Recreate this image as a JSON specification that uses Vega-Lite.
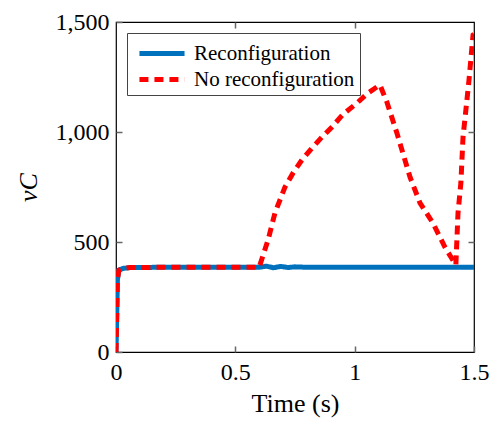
{
  "$schema": "https://vega.github.io/schema/vega-lite/v6.json",
  "width": 358,
  "height": 330,
  "autosize": {"type": "none"},
  "padding": {"left": 116, "top": 22, "right": 17, "bottom": 71},
  "background": "white",
  "config": {
    "view": {"stroke": "black", "strokeWidth": 1.2},
    "font": "Liberation Serif",
    "axis": {"grid": false, "domain": false, "ticks": true, "zindex": 1, "tickColor": "#666666", "tickSize": 6, "offset": -6, "tickWidth": 1.5, "labelFont": "Liberation Serif", "titleFont": "Liberation Serif", "labelFontSize": 24, "titleFontSize": 26, "labelColor": "black", "titleColor": "black", "titleFontWeight": "normal"}
  },
  "data": {
    "values": [
      {"series": "Reconfiguration", "t": 0.0, "v": 0},
      {"series": "Reconfiguration", "t": 0.006, "v": 330},
      {"series": "Reconfiguration", "t": 0.012, "v": 372},
      {"series": "Reconfiguration", "t": 0.03, "v": 380},
      {"series": "Reconfiguration", "t": 0.06, "v": 384},
      {"series": "Reconfiguration", "t": 0.2, "v": 385},
      {"series": "Reconfiguration", "t": 0.6, "v": 385},
      {"series": "Reconfiguration", "t": 0.63, "v": 390},
      {"series": "Reconfiguration", "t": 0.66, "v": 383},
      {"series": "Reconfiguration", "t": 0.69, "v": 389},
      {"series": "Reconfiguration", "t": 0.72, "v": 384},
      {"series": "Reconfiguration", "t": 0.75, "v": 387},
      {"series": "Reconfiguration", "t": 0.8, "v": 385},
      {"series": "Reconfiguration", "t": 1.0, "v": 385},
      {"series": "Reconfiguration", "t": 1.5, "v": 385},
      {"series": "No reconfiguration", "t": 0.0, "v": 0},
      {"series": "No reconfiguration", "t": 0.006, "v": 330},
      {"series": "No reconfiguration", "t": 0.012, "v": 372},
      {"series": "No reconfiguration", "t": 0.03, "v": 380},
      {"series": "No reconfiguration", "t": 0.06, "v": 384},
      {"series": "No reconfiguration", "t": 0.2, "v": 385},
      {"series": "No reconfiguration", "t": 0.6, "v": 385},
      {"series": "No reconfiguration", "t": 0.637, "v": 509},
      {"series": "No reconfiguration", "t": 0.666, "v": 632},
      {"series": "No reconfiguration", "t": 0.708, "v": 750},
      {"series": "No reconfiguration", "t": 0.742, "v": 814},
      {"series": "No reconfiguration", "t": 0.779, "v": 873},
      {"series": "No reconfiguration", "t": 0.821, "v": 927},
      {"series": "No reconfiguration", "t": 0.863, "v": 977},
      {"series": "No reconfiguration", "t": 0.905, "v": 1023},
      {"series": "No reconfiguration", "t": 0.951, "v": 1080},
      {"series": "No reconfiguration", "t": 1.01, "v": 1132},
      {"series": "No reconfiguration", "t": 1.056, "v": 1177},
      {"series": "No reconfiguration", "t": 1.106, "v": 1214},
      {"series": "No reconfiguration", "t": 1.135, "v": 1136},
      {"series": "No reconfiguration", "t": 1.177, "v": 995},
      {"series": "No reconfiguration", "t": 1.232, "v": 795},
      {"series": "No reconfiguration", "t": 1.274, "v": 677},
      {"series": "No reconfiguration", "t": 1.328, "v": 586},
      {"series": "No reconfiguration", "t": 1.378, "v": 477},
      {"series": "No reconfiguration", "t": 1.424, "v": 395},
      {"series": "No reconfiguration", "t": 1.433, "v": 632},
      {"series": "No reconfiguration", "t": 1.445, "v": 768},
      {"series": "No reconfiguration", "t": 1.454, "v": 977},
      {"series": "No reconfiguration", "t": 1.466, "v": 1100},
      {"series": "No reconfiguration", "t": 1.479, "v": 1236},
      {"series": "No reconfiguration", "t": 1.496, "v": 1441},
      {"series": "No reconfiguration", "t": 1.5, "v": 1445}
    ]
  },
  "layer": [
    {
      "mark": {"type": "line", "opacity": 0},
      "encoding": {
        "x": {"field": "t", "type": "quantitative", "scale": {"domain": [0, 1.5], "nice": false, "zero": false},
              "axis": {"orient": "top", "values": [0.5, 1], "labels": false, "title": null, "ticks": true, "tickSize": 6, "offset": -6, "tickColor": "#666666", "tickWidth": 1.5}},
        "y": {"field": "v", "type": "quantitative", "scale": {"domain": [0, 1500], "nice": false},
              "axis": {"orient": "right", "values": [500, 1000], "labels": false, "title": null, "ticks": true, "tickSize": 6, "offset": -6, "tickColor": "#666666", "tickWidth": 1.5}}
      }
    },
    {
      "mark": {"type": "line", "strokeWidth": 5, "clip": true},
      "encoding": {
        "x": {"field": "t", "type": "quantitative", "title": "Time (s)", "scale": {"domain": [0, 1.5], "nice": false, "zero": false},
              "axis": {"orient": "bottom", "values": [0, 0.5, 1, 1.5], "format": "~g", "labelPadding": 8, "titlePadding": 6, "labelFlush": false, "ticks": true, "tickSize": 6, "offset": -6, "tickColor": "#666666", "tickWidth": 1.5}},
        "y": {"field": "v", "type": "quantitative", "title": "vC", "scale": {"domain": [0, 1500], "nice": false},
              "axis": {"orient": "left", "values": [0, 500, 1000, 1500], "format": ",.0f", "labelPadding": 7, "titlePadding": 14, "titleFontStyle": "italic", "labelFlush": false, "ticks": true, "tickSize": 6, "offset": -6, "tickColor": "#666666", "tickWidth": 1.5}},
        "color": {"field": "series", "type": "nominal", "sort": ["Reconfiguration", "No reconfiguration"],
                  "scale": {"domain": ["Reconfiguration", "No reconfiguration"], "range": ["#0072BD", "#FF0000"]},
                  "legend": {"title": null, "orient": "top-left", "offset": 11, "strokeColor": "#444444", "fillColor": "white", "padding": 5,
                             "labelFontSize": 21, "labelLimit": 400, "labelFont": "Liberation Serif", "labelColor": "black", "symbolType": "M -0.62 0 H 2.85", "symbolStrokeWidth": 5, "symbolSize": 676, "rowPadding": 0, "labelOffset": 31}},
        "strokeDash": {"field": "series", "type": "nominal", "sort": ["Reconfiguration", "No reconfiguration"],
                       "scale": {"domain": ["Reconfiguration", "No reconfiguration"], "range": [[1, 0], [9, 6]]}},
        "order": {"field": "t", "type": "quantitative"}
      }
    }
  ],
  "resolve": {"axis": {"x": "independent", "y": "independent"}}
}
